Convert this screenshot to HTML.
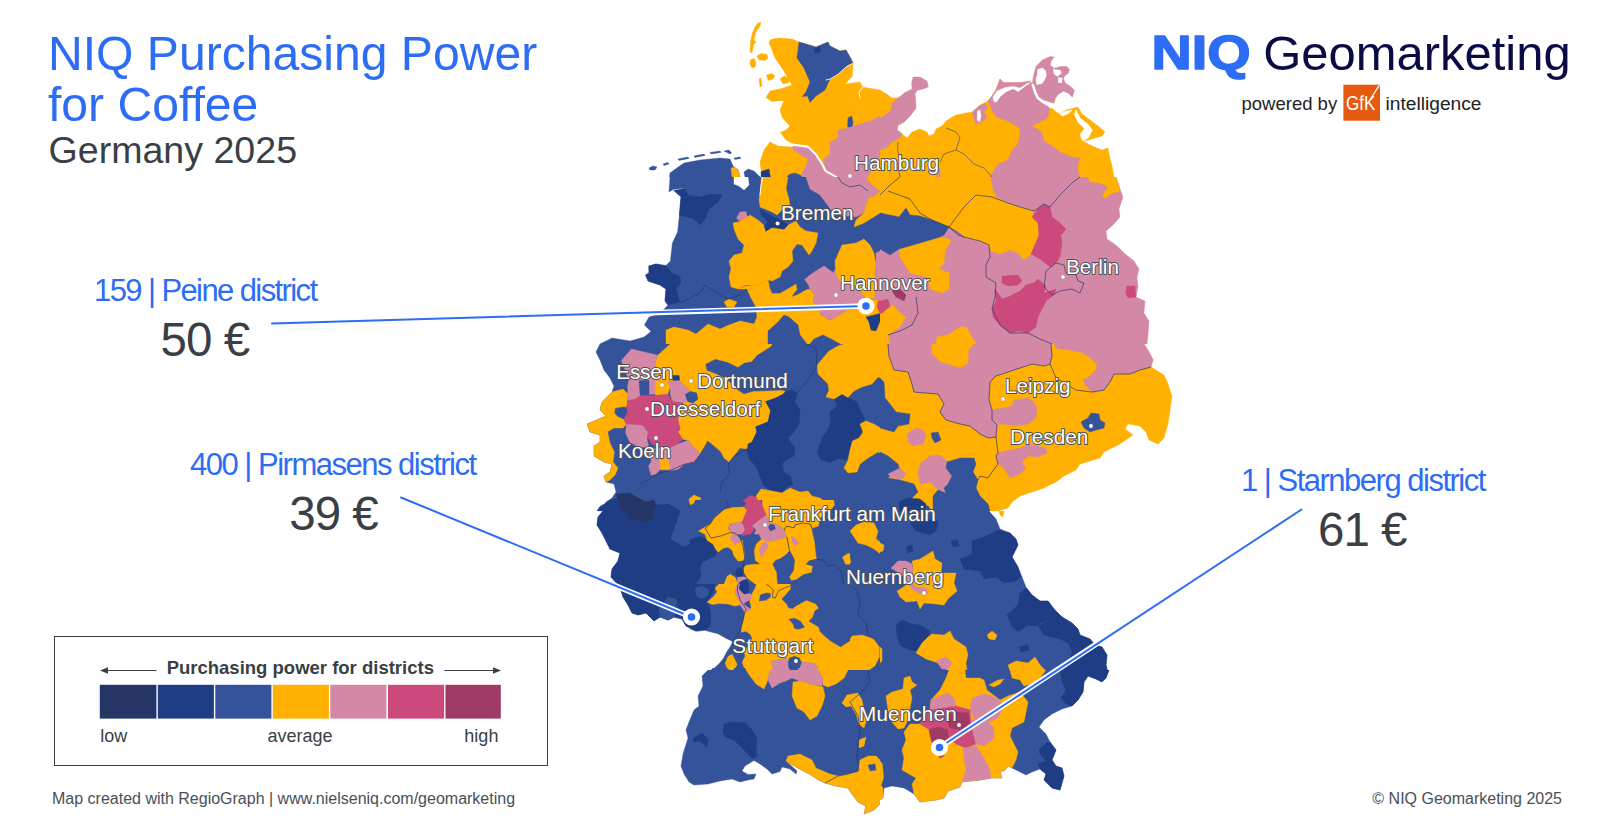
<!DOCTYPE html>
<html lang="en">
<head>
<meta charset="utf-8">
<title>NIQ Purchasing Power for Coffee – Germany 2025</title>
<style>
html,body{margin:0;padding:0;background:#fff;}
body{width:1600px;height:837px;position:relative;overflow:hidden;font-family:"Liberation Sans",Arial,sans-serif;}
.abs{position:absolute;white-space:nowrap;line-height:1;}
#title{left:48px;top:28.3px;font-size:48.1px;line-height:50.8px;color:#2d6df6;}
#subtitle{left:48.5px;top:131.6px;font-size:37.6px;color:#3a3f45;}
.clabel{font-size:31px;color:#2d6df6;letter-spacing:-1.5px;}
.cval{font-size:47.5px;color:#3a3f45;letter-spacing:-1px;}
#footl{left:52px;top:790.8px;font-size:16px;color:#4a4f55;}
#footr{right:38px;top:790.8px;font-size:16px;color:#4a4f55;}
#legend{left:54px;top:636px;width:494px;height:130px;border:1.2px solid #3a3f45;box-sizing:border-box;}
#mapsvg{position:absolute;left:0;top:0;}
</style>
</head>
<body>
<svg id="mapsvg" width="1600" height="837" viewBox="0 0 1600 837">
<defs><clipPath id="c580_10"><rect x="580" y="10" width="320.4" height="167.4"/></clipPath><clipPath id="c580_177"><rect x="580" y="177" width="320.4" height="167.4"/></clipPath><clipPath id="c580_344"><rect x="580" y="344" width="320.4" height="167.4"/></clipPath><clipPath id="c580_511"><rect x="580" y="511" width="320.4" height="167.4"/></clipPath><clipPath id="c580_670"><rect x="580" y="670" width="320.4" height="167.4"/></clipPath><clipPath id="c880_10"><rect x="880" y="10" width="320.4" height="167.4"/></clipPath><clipPath id="c880_177"><rect x="880" y="177" width="320.4" height="167.4"/></clipPath><clipPath id="c880_344"><rect x="880" y="344" width="320.4" height="167.4"/></clipPath><clipPath id="c880_511"><rect x="880" y="511" width="320.4" height="167.4"/></clipPath><clipPath id="c880_670"><rect x="880" y="670" width="320.4" height="167.4"/></clipPath><clipPath id="s690_500"><rect x="690" y="500" width="160" height="84"/></clipPath><clipPath id="s690_584"><rect x="690" y="584" width="160" height="84"/></clipPath></defs>
<g clip-path="url(#c580_10)"><g transform="translate(580,10) scale(0.2)">
<polygon points="890,65 905,62 900,80 880,110 870,150 880,160 868,175 860,215 850,210 852,160 862,115 875,85" fill="#ffb000" stroke="#ffb000" stroke-width="2" stroke-linejoin="round"/>
<polygon points="885,230 905,218 935,222 940,240 925,252 895,250" fill="#ffb000" stroke="#ffb000" stroke-width="2" stroke-linejoin="round"/>
<polygon points="852,250 870,242 880,262 875,285 860,290 850,270" fill="#ffb000" stroke="#ffb000" stroke-width="2" stroke-linejoin="round"/>
<polygon points="932,325 960,318 975,330 965,345 940,352" fill="#ffb000" stroke="#ffb000" stroke-width="2" stroke-linejoin="round"/>
<polygon points="1000,345 1020,330 1050,340 1045,362 1015,370" fill="#ffb000" stroke="#ffb000" stroke-width="2" stroke-linejoin="round"/>
<polygon points="895,345 905,340 910,380 900,385" fill="#ffb000" stroke="#ffb000" stroke-width="2" stroke-linejoin="round"/>
<polygon points="950,150 975,142 1000,140 1060,145 1095,160 1130,170 1180,185 1240,160 1250,180 1300,205 1330,200 1350,235 1365,265 1362,330 1325,370 1400,360 1412,385 1440,390 1500,400 1560,440 1600,440 1600,835 1290,835 1230,800 1210,760 1180,720 1140,680 1070,670 1030,650 1002,612 1030,600 1050,580 1012,540 1000,500 1020,452 960,457 930,437 950,405 1010,392 1060,375 1040,340 1010,290 975,240 960,200 945,165" fill="#ffb000" stroke="#ffb000" stroke-width="2" stroke-linejoin="round"/>
<polygon points="950,660 990,680 1060,685 1140,700 1200,780 1260,835 920,835 905,800 900,760 920,700" fill="#ffb000" stroke="#ffb000" stroke-width="2" stroke-linejoin="round"/>
<polygon points="1095,160 1130,170 1180,185 1240,160 1250,180 1300,205 1330,200 1350,235 1365,265 1340,275 1290,320 1250,345 1225,400 1180,430 1150,462 1138,430 1112,432 1130,410 1150,360 1120,290 1085,240" fill="#34539b" stroke="#34539b" stroke-width="2" stroke-linejoin="round"/>
<polygon points="1172,195 1195,185 1207,200 1195,216 1175,214" fill="#1f3d85" stroke="#1f3d85" stroke-width="2" stroke-linejoin="round"/>
<polyline points="1362,268 1330,285 1290,322 1250,345 1230,350" fill="none" stroke="#fff" stroke-width="4" stroke-linejoin="round" stroke-linecap="round"/>
<polyline points="1415,385 1395,410 1400,440" fill="none" stroke="#fff" stroke-width="5" stroke-linejoin="round" stroke-linecap="round"/>
<polygon points="1340,540 1358,530 1365,560 1360,590 1338,585" fill="#34539b" stroke="#34539b" stroke-width="2" stroke-linejoin="round"/>
<polygon points="1290,600 1340,590 1400,570 1450,555 1500,530 1520,490 1560,480 1580,450 1600,440 1600,835 1290,835 1230,800 1215,750 1250,720 1250,660 1290,640" fill="#d389a5" stroke="#d389a5" stroke-width="2" stroke-linejoin="round"/>
<polygon points="1065,680 1140,690 1175,725 1205,770 1225,810 1280,835 1100,835 1130,780 1140,745 1100,720 1065,700" fill="#d389a5" stroke="#d389a5" stroke-width="2" stroke-linejoin="round"/>
<polyline points="1060,672 1140,683 1180,722 1208,765 1228,805 1290,840" fill="none" stroke="#fff" stroke-width="9" stroke-linejoin="round" stroke-linecap="round"/>
<polygon points="1580,580 1600,568 1600,610 1585,605" fill="#ffffff" stroke="#ffffff" stroke-width="2" stroke-linejoin="round"/>
<polygon points="1540,690 1570,660 1600,650 1600,720 1540,715" fill="#ffb000" stroke="#ffb000" stroke-width="2" stroke-linejoin="round"/>
<polygon points="1480,760 1530,730 1600,720 1600,835 1440,835" fill="#ffb000" stroke="#ffb000" stroke-width="2" stroke-linejoin="round"/>
<polygon points="470,800 520,765 600,750 700,740 750,745 765,780 790,800 800,835 447,835 450,815" fill="#34539b" stroke="#34539b" stroke-width="2" stroke-linejoin="round"/>
<polygon points="755,790 775,785 795,810 800,835 760,835" fill="#ffb000" stroke="#ffb000" stroke-width="2" stroke-linejoin="round"/>
<polygon points="820,810 840,795 870,805 900,835 825,835" fill="#34539b" stroke="#34539b" stroke-width="2" stroke-linejoin="round"/>
<polygon points="905,808 945,795 952,835 905,835" fill="#1f3d85" stroke="#1f3d85" stroke-width="2" stroke-linejoin="round"/>
<polygon points="1035,835 1045,822 1075,815 1100,825 1110,835" fill="#34539b" stroke="#34539b" stroke-width="2" stroke-linejoin="round"/>
<polygon points="345,790 365,780 385,785 375,800 350,800" fill="#34539b" stroke="#34539b" stroke-width="2" stroke-linejoin="round"/>
<polygon points="415,770 440,762 445,770 420,778" fill="#34539b" stroke="#34539b" stroke-width="2" stroke-linejoin="round"/>
<polygon points="490,745 540,735 545,742 495,752" fill="#34539b" stroke="#34539b" stroke-width="2" stroke-linejoin="round"/>
<polygon points="570,730 620,720 625,727 575,737" fill="#34539b" stroke="#34539b" stroke-width="2" stroke-linejoin="round"/>
<polygon points="650,712 700,705 705,712 655,720" fill="#34539b" stroke="#34539b" stroke-width="2" stroke-linejoin="round"/>
<polygon points="720,705 745,700 758,715 750,720" fill="#34539b" stroke="#34539b" stroke-width="2" stroke-linejoin="round"/>
<polygon points="770,740 800,735 805,742 775,748" fill="#34539b" stroke="#34539b" stroke-width="2" stroke-linejoin="round"/>
</g></g>
<g clip-path="url(#c580_177)"><g transform="translate(580,177) scale(0.2)">
<polygon points="450,0 445,75 465,62 520,55 505,100 497,190 488,275 462,330 452,420 430,442 380,435 343,445 345,480 328,490 340,520 400,540 430,560 425,620 440,640 400,682 345,700 322,740 355,772 320,800 250,820 160,805 100,835 1600,835 1600,0" fill="#34539b" stroke="#34539b" stroke-width="2" stroke-linejoin="round"/>
<polygon points="468,68 520,58 545,92 600,100 650,88 710,88 690,125 645,160 630,200 605,240 560,205 497,192 500,150 505,100" fill="#1f3d85" stroke="#1f3d85" stroke-width="2" stroke-linejoin="round"/>
<polygon points="345,445 380,435 430,445 460,480 500,500 505,530 480,560 500,625 440,640 425,620 430,560 400,540 340,520 328,490 345,480" fill="#1f3d85" stroke="#1f3d85" stroke-width="2" stroke-linejoin="round"/>
<polygon points="905,0 952,0 925,27 905,15" fill="#1f3d85" stroke="#1f3d85" stroke-width="2" stroke-linejoin="round"/>
<polygon points="770,0 840,0 845,40 820,65 795,45 770,35" fill="#ffffff" stroke="#ffffff" stroke-width="2" stroke-linejoin="round"/>
<polygon points="905,0 1040,0 1030,60 1045,110 1050,150 1010,165 985,190 960,175 900,150 895,110 905,60" fill="#ffb000" stroke="#ffb000" stroke-width="2" stroke-linejoin="round"/>
<polyline points="915,0 905,40 900,90" fill="none" stroke="#fff" stroke-width="5" stroke-linejoin="round" stroke-linecap="round"/>
<polygon points="800,175 830,172 835,200 800,222 782,205" fill="#d389a5" stroke="#d389a5" stroke-width="2" stroke-linejoin="round"/>
<polygon points="800,222 850,190 890,215 930,250 925,275 960,255 1020,262 1040,240 1080,220 1100,250 1130,270 1190,280 1180,330 1160,370 1145,390 1110,340 1085,335 1060,370 1065,420 1040,450 1010,470 1000,500 960,520 940,515 880,545 830,540 790,560 755,550 745,500 755,460 745,420 770,390 810,380 820,340 790,310 770,260 765,230" fill="#ffb000" stroke="#ffb000" stroke-width="2" stroke-linejoin="round"/>
<polygon points="900,160 940,185 1000,215 1040,240 1020,260 960,250 930,270 920,245 940,225 905,185" fill="#1f3d85" stroke="#1f3d85" stroke-width="2" stroke-linejoin="round"/>
<polygon points="790,560 830,545 880,545 940,515 950,560 960,582 1000,582 1060,548 1080,535 1085,562 1055,600 1090,588 1130,565 1150,560 1175,590 1165,625 1200,650 1202,686 1251,716 1288,694 1341,663 1401,656 1420,625 1470,612 1500,612 1490,640 1500,680 1530,680 1545,650 1600,620 1600,835 430,835 430,765 470,750 540,765 580,785 640,735 700,760 745,740 800,720 870,735 885,700 880,650 855,605 835,560" fill="#ffb000" stroke="#ffb000" stroke-width="2" stroke-linejoin="round"/>
<polygon points="940,835 940,770 990,725 1020,690 1045,700 1090,740 1100,790 1135,835" fill="#34539b" stroke="#34539b" stroke-width="2" stroke-linejoin="round"/>
<polygon points="1150,835 1170,810 1215,790 1260,812 1300,835" fill="#34539b" stroke="#34539b" stroke-width="2" stroke-linejoin="round"/>
<polygon points="720,625 745,610 785,625 770,650 735,650" fill="#ffb000" stroke="#ffb000" stroke-width="2" stroke-linejoin="round"/>
<polygon points="1123,513 1150,490 1183,468 1221,445 1266,479 1277,460 1285,500 1300,520 1400,560 1420,600 1409,625 1401,656 1341,663 1288,694 1251,716 1202,686 1200,650 1165,625 1175,590 1150,560 1140,535" fill="#d389a5" stroke="#d389a5" stroke-width="2" stroke-linejoin="round"/>
<polygon points="1275,420 1310,340 1380,330 1420,310 1450,340 1470,380 1480,440 1475,500 1480,560 1470,612 1420,600 1400,560 1300,520 1285,500 1277,460" fill="#ffb000" stroke="#ffb000" stroke-width="2" stroke-linejoin="round"/>
<polygon points="1480,380 1520,360 1560,365 1600,390 1600,650 1550,650 1530,612 1500,612 1470,612 1480,560 1475,500 1480,440" fill="#d389a5" stroke="#d389a5" stroke-width="2" stroke-linejoin="round"/>
<polygon points="1560,560 1600,540 1600,620 1580,600" fill="#9d3b62" stroke="#9d3b62" stroke-width="2" stroke-linejoin="round"/>
<polygon points="1490,620 1530,610 1550,640 1530,680 1500,680 1485,650" fill="#cb4a7b" stroke="#cb4a7b" stroke-width="2" stroke-linejoin="round"/>
<polygon points="1430,700 1470,690 1510,680 1500,720 1480,770 1455,765 1445,725" fill="#1f3d85" stroke="#1f3d85" stroke-width="2" stroke-linejoin="round"/>
<polygon points="1545,780 1600,760 1600,835 1560,835" fill="#d389a5" stroke="#d389a5" stroke-width="2" stroke-linejoin="round"/>
<polygon points="1130,0 1150,60 1200,90 1230,130 1260,170 1300,190 1380,200 1420,180 1440,110 1480,90 1500,70 1450,30 1430,0" fill="#d389a5" stroke="#d389a5" stroke-width="2" stroke-linejoin="round"/>
<polygon points="1430,0 1450,30 1500,70 1480,90 1440,110 1420,180 1380,215 1370,250 1420,230 1500,180 1560,188 1600,200 1600,0" fill="#ffb000" stroke="#ffb000" stroke-width="2" stroke-linejoin="round"/>
<polyline points="500,630 560,600 600,580 625,540 700,590 740,610 800,590 835,560" fill="none" stroke="#253566" stroke-width="4.5" stroke-opacity=".75" stroke-linejoin="round"/>
<polyline points="1290,0 1310,30 1350,50 1400,40 1440,70" fill="none" stroke="#253566" stroke-width="4.5" stroke-opacity=".75" stroke-linejoin="round"/>
</g></g>
<g clip-path="url(#c580_344)"><g transform="translate(580,344) scale(0.2)">
<polygon points="100,0 80,40 100,80 120,130 150,170 170,210 160,240 110,290 100,330 130,360 60,390 35,400 50,440 100,455 100,490 70,510 70,560 120,590 160,600 150,640 120,660 130,690 170,700 180,740 160,770 130,790 115,835 1600,835 1600,0" fill="#34539b" stroke="#34539b" stroke-width="2" stroke-linejoin="round"/>
<polygon points="160,240 215,225 240,250 235,300 240,318 219,313 175,320 172,345 188,364 219,378 232,401 215,420 169,420 138,439 150,495 172,540 165,590 190,620 175,655 150,680 130,690 120,660 150,640 160,600 120,590 70,560 70,510 100,490 100,455 50,440 35,400 60,390 130,360 100,330 110,290" fill="#ffb000" stroke="#ffb000" stroke-width="2" stroke-linejoin="round"/>
<polygon points="451,0 960,0 953,13 884,56 859,88 821,94 790,116 740,91 677,75 627,100 633,132 680,150 720,170 760,200 790,232 821,251 865,238 1009,232 1028,238 1015,251 978,270 928,288 953,332 940,389 878,414 884,439 859,495 834,525 800,520 770,560 745,590 720,570 705,540 660,500 640,485 620,520 600,550 572,520 540,482 514,476 489,439 501,426 489,376 500,340 514,295 539,288 564,295 589,276 583,245 552,238 533,219 498,182 495,157 464,157 467,182 439,188 401,188 382,163 376,94 389,56" fill="#ffb000" stroke="#ffb000" stroke-width="2" stroke-linejoin="round"/>
<polygon points="257,25 389,56 376,94 382,163 401,188 376,213 376,251 345,251 301,260 276,276 241,282 238,207 244,182 207,82" fill="#d389a5" stroke="#d389a5" stroke-width="2" stroke-linejoin="round"/>
<polygon points="295,182 345,182 345,251 301,260" fill="#34539b" stroke="#34539b" stroke-width="2" stroke-linejoin="round"/>
<polygon points="376,182 401,188 439,188 451,213 439,251 376,257" fill="#ffb000" stroke="#ffb000" stroke-width="2" stroke-linejoin="round"/>
<polygon points="464,157 495,157 498,182 467,182" fill="#1f3d85" stroke="#1f3d85" stroke-width="2" stroke-linejoin="round"/>
<polygon points="439,188 498,182 533,219 552,238 527,263 539,288 514,295 464,288 451,251 451,213" fill="#d389a5" stroke="#d389a5" stroke-width="2" stroke-linejoin="round"/>
<polygon points="527,251 552,238 583,245 589,276 564,295 539,288" fill="#34539b" stroke="#34539b" stroke-width="2" stroke-linejoin="round"/>
<polygon points="241,282 276,276 301,260 376,257 439,251 464,288 514,295 500,340 489,376 501,426 489,439 514,476 489,497 450,520 400,520 360,500 340,470 335,430 313,407 232,401 219,376 238,338 232,313" fill="#cb4a7b" stroke="#cb4a7b" stroke-width="2" stroke-linejoin="round"/>
<polygon points="232,401 313,407 338,439 335,476 345,520 290,512 250,492 228,445" fill="#d389a5" stroke="#d389a5" stroke-width="2" stroke-linejoin="round"/>
<polygon points="340,520 400,520 450,520 490,500 540,482 572,520 602,550 572,590 520,602 490,627 450,632 400,628 380,652 355,655 343,610 358,585 345,560" fill="#d389a5" stroke="#d389a5" stroke-width="2" stroke-linejoin="round"/>
<polygon points="400,580 440,572 448,625 402,628" fill="#ffb000" stroke="#ffb000" stroke-width="2" stroke-linejoin="round"/>
<polygon points="1028,238 1060,230 1085,245 1075,290 1100,330 1095,400 1070,440 1040,470 1060,500 1075,520 1070,560 1030,580 1010,600 1020,640 1050,660 1065,700 1030,720 1010,740 960,735 920,710 900,660 880,610 850,580 835,540 840,500 860,490 884,439 878,414 940,389 953,332 928,288 978,270 1015,251" fill="#1f3d85" stroke="#1f3d85" stroke-width="2" stroke-linejoin="round"/>
<polygon points="1270,275 1310,250 1340,268 1385,290 1400,330 1425,375 1400,400 1415,440 1395,470 1362,485 1350,530 1332,580 1290,572 1250,592 1205,580 1185,540 1210,470 1240,430 1255,380 1250,340 1285,310" fill="#1f3d85" stroke="#1f3d85" stroke-width="2" stroke-linejoin="round"/>
<polygon points="1185,105 1245,35 1290,10 1320,0 1545,0 1545,50 1585,105 1555,130 1560,165 1520,175 1490,165 1460,200 1410,215 1370,235 1340,268 1310,250 1270,275 1230,265 1245,230 1240,200 1190,150" fill="#ffb000" stroke="#ffb000" stroke-width="2" stroke-linejoin="round"/>
<polygon points="1560,165 1600,140 1600,330 1560,320 1520,290 1515,240 1530,200" fill="#ffb000" stroke="#ffb000" stroke-width="2" stroke-linejoin="round"/>
<polygon points="1550,0 1600,0 1600,130 1575,120 1545,60" fill="#d389a5" stroke="#d389a5" stroke-width="2" stroke-linejoin="round"/>
<polygon points="1430,385 1470,400 1520,430 1570,440 1600,430 1600,600 1560,590 1530,560 1490,540 1440,570 1400,600 1385,640 1340,645 1320,620 1340,580 1350,530 1362,485 1395,470 1415,440 1400,400" fill="#ffb000" stroke="#ffb000" stroke-width="2" stroke-linejoin="round"/>
<polygon points="1540,660 1575,640 1600,630 1600,680 1560,678" fill="#d389a5" stroke="#d389a5" stroke-width="2" stroke-linejoin="round"/>
<polygon points="880,760 905,725 960,735 1010,745 1050,720 1100,740 1140,735 1160,760 1200,770 1240,800 1250,835 900,835 880,800" fill="#ffb000" stroke="#ffb000" stroke-width="2" stroke-linejoin="round"/>
<polygon points="810,790 850,758 880,765 900,800 910,835 835,835" fill="#cb4a7b" stroke="#cb4a7b" stroke-width="2" stroke-linejoin="round"/>
<polygon points="545,775 570,755 605,770 595,795 560,810 548,795" fill="#ffb000" stroke="#ffb000" stroke-width="2" stroke-linejoin="round"/>
<polygon points="720,835 740,822 800,818 820,835" fill="#ffb000" stroke="#ffb000" stroke-width="2" stroke-linejoin="round"/>
<polygon points="85,835 100,812 150,783 195,768 230,760 260,835" fill="#1f3d85" stroke="#1f3d85" stroke-width="2" stroke-linejoin="round"/>
<polygon points="340,835 380,805 440,800 500,835" fill="#1f3d85" stroke="#1f3d85" stroke-width="2" stroke-linejoin="round"/>
<polygon points="180,750 250,745 290,770 330,790 370,780 380,810 350,835 210,835 195,790" fill="#253566" stroke="#253566" stroke-width="2" stroke-linejoin="round"/>
<polyline points="300,700 340,680 380,652 450,632 520,602 572,590 602,550 640,485" fill="none" stroke="#253566" stroke-width="4.5" stroke-opacity=".75" stroke-linejoin="round"/>
<polyline points="700,740 710,690 750,650 740,600 770,560 835,525" fill="none" stroke="#253566" stroke-width="4.5" stroke-opacity=".75" stroke-linejoin="round"/>
<polyline points="1130,0 1180,20 1185,105 1160,150 1100,230 1085,245" fill="none" stroke="#253566" stroke-width="4.5" stroke-opacity=".75" stroke-linejoin="round"/>
</g></g>
<g clip-path="url(#c580_511)"><g transform="translate(580,511) scale(0.2)">
<polygon points="115,0 90,30 85,70 110,110 130,150 150,190 200,210 190,250 160,290 155,330 200,380 215,430 240,470 260,510 290,520 330,510 370,550 400,530 440,545 470,530 510,540 530,575 570,595 620,605 660,600 700,615 750,640 770,660 740,700 720,740 680,770 650,800 625,835 1600,835 1600,0" fill="#34539b" stroke="#34539b" stroke-width="2" stroke-linejoin="round"/>
<polygon points="115,0 90,30 85,70 110,110 130,150 150,190 200,210 190,250 160,290 155,330 200,380 215,430 240,470 260,510 290,520 330,510 370,550 400,530 440,545 470,530 510,540 530,575 570,595 620,605 650,590 650,530 640,480 640,450 680,430 680,380 640,340 600,300 610,250 670,230 680,190 600,140 520,180 450,140 480,60 500,0" fill="#1f3d85" stroke="#1f3d85" stroke-width="2" stroke-linejoin="round"/>
<polygon points="235,0 370,0 365,40 330,55 280,45 240,30" fill="#253566" stroke="#253566" stroke-width="2" stroke-linejoin="round"/>
<polygon points="575,390 610,370 650,380 665,420 640,445 590,435" fill="#34539b" stroke="#34539b" stroke-width="2" stroke-linejoin="round"/>
<polygon points="395,490 440,430 480,440 490,480 470,530 440,545 400,530" fill="#34539b" stroke="#34539b" stroke-width="2" stroke-linejoin="round"/>
<polygon points="600,100 650,60 680,20 720,0 830,0 820,60 810,100 830,130 800,160 820,200 790,250 770,220 765,180 730,170 690,200 660,150 630,130" fill="#ffb000" stroke="#ffb000" stroke-width="2" stroke-linejoin="round"/>
<polygon points="750,70 790,55 820,70 810,100 780,110 755,100" fill="#d389a5" stroke="#d389a5" stroke-width="2" stroke-linejoin="round"/>
<polygon points="745,125 780,120 800,160 770,180" fill="#d389a5" stroke="#d389a5" stroke-width="2" stroke-linejoin="round"/>
<polygon points="830,0 930,0 920,40 880,70 850,110 810,120 820,60" fill="#cb4a7b" stroke="#cb4a7b" stroke-width="2" stroke-linejoin="round"/>
<polygon points="880,70 920,40 960,50 1000,70 1030,100 1020,135 980,150 930,150 900,120 870,110" fill="#d389a5" stroke="#d389a5" stroke-width="2" stroke-linejoin="round"/>
<polygon points="940,75 970,70 975,95 950,100" fill="#34539b" stroke="#34539b" stroke-width="2" stroke-linejoin="round"/>
<polygon points="1030,100 1060,70 1100,60 1140,80 1160,120 1170,180 1150,230 1140,270 1160,300 1130,310 1100,290 1090,320 1060,330 1050,290 1070,250 1060,200 1040,150 1020,135" fill="#ffb000" stroke="#ffb000" stroke-width="2" stroke-linejoin="round"/>
<polygon points="1060,130 1085,125 1095,165 1070,170" fill="#d389a5" stroke="#d389a5" stroke-width="2" stroke-linejoin="round"/>
<polygon points="880,160 900,150 930,150 980,150 1020,135 1040,150 1050,200 1020,220 990,230 960,260 930,250 890,260 875,220" fill="#ffb000" stroke="#ffb000" stroke-width="2" stroke-linejoin="round"/>
<polygon points="890,160 930,150 940,180 920,210 895,210" fill="#d389a5" stroke="#d389a5" stroke-width="2" stroke-linejoin="round"/>
<polygon points="820,280 870,265 930,255 960,265 960,300 985,345 990,385 1045,375 1050,395 980,430 950,430 920,450 885,430 860,420 850,400 870,370 850,340 820,320" fill="#ffb000" stroke="#ffb000" stroke-width="2" stroke-linejoin="round"/>
<polygon points="780,300 810,285 825,315 800,335 780,325" fill="#1f3d85" stroke="#1f3d85" stroke-width="2" stroke-linejoin="round"/>
<polygon points="640,455 680,420 700,380 740,320 770,330 790,360 780,410 810,440 800,470 750,470 700,465 660,470" fill="#ffb000" stroke="#ffb000" stroke-width="2" stroke-linejoin="round"/>
<polygon points="790,345 820,335 850,345 840,400 860,430 850,470 840,500 815,490 805,445 780,410" fill="#d389a5" stroke="#d389a5" stroke-width="2" stroke-linejoin="round"/>
<polygon points="805,360 835,350 845,395 820,410 805,390" fill="#1f3d85" stroke="#1f3d85" stroke-width="2" stroke-linejoin="round"/>
<polygon points="850,430 885,430 920,450 950,430 1000,440 1030,470 1060,490 1090,470 1130,450 1190,480 1170,510 1165,550 1190,590 1220,620 1260,660 1300,690 1340,660 1360,625 1410,620 1470,640 1500,680 1500,730 1480,770 1440,800 1420,835 830,835 830,790 810,750 830,730 820,600 830,560 815,520 840,500 850,470" fill="#ffb000" stroke="#ffb000" stroke-width="2" stroke-linejoin="round"/>
<polygon points="1045,545 1075,535 1110,560 1125,590 1095,600 1065,580" fill="#34539b" stroke="#34539b" stroke-width="2" stroke-linejoin="round"/>
<polygon points="955,760 1000,745 1040,760 1100,770 1150,750 1190,780 1190,835 950,835 965,800" fill="#d389a5" stroke="#d389a5" stroke-width="2" stroke-linejoin="round"/>
<polygon points="1040,760 1075,745 1100,770 1085,800 1050,795" fill="#34539b" stroke="#34539b" stroke-width="2" stroke-linejoin="round"/>
<polygon points="725,740 760,720 780,760 765,800 740,790" fill="#ffb000" stroke="#ffb000" stroke-width="2" stroke-linejoin="round"/>
<polygon points="1350,100 1380,70 1420,55 1470,60 1490,100 1480,140 1520,170 1510,220 1470,190 1430,170 1390,160 1370,130" fill="#ffb000" stroke="#ffb000" stroke-width="2" stroke-linejoin="round"/>
<polygon points="1315,230 1345,215 1355,255 1330,275" fill="#ffb000" stroke="#ffb000" stroke-width="2" stroke-linejoin="round"/>
<polygon points="1555,270 1600,245 1600,290 1565,295" fill="#d389a5" stroke="#d389a5" stroke-width="2" stroke-linejoin="round"/>
<polygon points="1585,390 1600,385 1600,415 1588,412" fill="#ffb000" stroke="#ffb000" stroke-width="2" stroke-linejoin="round"/>
<polygon points="1575,560 1600,540 1600,640 1580,620" fill="#1f3d85" stroke="#1f3d85" stroke-width="2" stroke-linejoin="round"/>
<polyline points="1135,270 1180,250 1230,240 1240,280 1300,300 1310,360 1380,390 1400,450 1390,520 1430,560 1440,620 1470,640 1500,680 1500,730 1480,770 1500,800" fill="none" stroke="#253566" stroke-width="4.5" stroke-opacity=".75" stroke-linejoin="round"/>
<polyline points="155,330 250,340 350,300 430,320 460,350 450,400 490,450 480,490" fill="none" stroke="#253566" stroke-width="4.5" stroke-opacity=".75" stroke-linejoin="round"/>
<polyline points="650,100 660,130 740,115 760,180 800,250 820,280 790,345 800,445 840,500 815,520 790,600 750,640" fill="none" stroke="#253566" stroke-width="4.5" stroke-opacity=".75" stroke-linejoin="round"/>
<polyline points="890,330 920,325 925,360 960,380 970,430" fill="none" stroke="#253566" stroke-width="4.5" stroke-opacity=".75" stroke-linejoin="round"/>
</g></g>
<g clip-path="url(#c580_670)"><g transform="translate(580,670) scale(0.2)">
<polygon points="0,0 1600,0 1600,835 0,835" fill="#ffffff" stroke="#ffffff" stroke-width="2" stroke-linejoin="round"/>
<polygon points="640,0 610,30 615,80 590,130 595,180 570,200 545,260 530,300 540,340 515,420 505,480 520,520 545,560 570,575 640,570 700,555 760,545 800,560 840,550 870,545 880,520 840,522 810,505 825,480 870,452 900,470 935,495 960,520 1000,508 1010,485 1050,495 1080,520 1085,505 1030,455 1080,485 1150,522 1190,548 1225,565 1280,580 1340,590 1360,620 1390,660 1430,680 1420,720 1470,700 1500,670 1520,630 1505,590 1530,570 1600,585 1600,0" fill="#34539b" stroke="#34539b" stroke-width="2" stroke-linejoin="round"/>
<polygon points="1040,430 1100,420 1160,450 1180,490 1250,520 1290,530 1340,520 1390,510 1400,450 1440,430 1480,430 1510,460 1520,520 1530,570 1505,590 1520,630 1500,670 1470,700 1420,720 1430,680 1390,660 1360,620 1340,590 1280,580 1225,565 1190,548 1150,522 1080,485 1030,455" fill="#ffb000" stroke="#ffb000" stroke-width="2" stroke-linejoin="round"/>
<polygon points="1440,475 1475,470 1480,500 1450,505" fill="#34539b" stroke="#34539b" stroke-width="2" stroke-linejoin="round"/>
<polygon points="720,270 760,260 830,265 860,300 885,340 880,380 885,430 860,445 830,410 800,380 770,350 725,335 715,310" fill="#1f3d85" stroke="#1f3d85" stroke-width="2" stroke-linejoin="round"/>
<polygon points="565,340 610,315 640,345 635,385 600,355 570,360" fill="#1f3d85" stroke="#1f3d85" stroke-width="2" stroke-linejoin="round"/>
<polygon points="830,0 950,0 940,50 920,95 880,70 850,30" fill="#ffb000" stroke="#ffb000" stroke-width="2" stroke-linejoin="round"/>
<polygon points="950,0 1190,0 1215,40 1210,80 1150,70 1100,55 1060,40 1030,55 1000,65 960,90 940,50" fill="#d389a5" stroke="#d389a5" stroke-width="2" stroke-linejoin="round"/>
<polygon points="1190,0 1340,0 1320,40 1280,70 1240,85 1215,75 1215,40" fill="#ffb000" stroke="#ffb000" stroke-width="2" stroke-linejoin="round"/>
<polygon points="1065,60 1100,55 1150,70 1215,85 1225,130 1210,180 1185,230 1150,250 1120,210 1085,190 1060,130" fill="#ffb000" stroke="#ffb000" stroke-width="2" stroke-linejoin="round"/>
<polygon points="1310,165 1335,125 1390,115 1410,150 1420,200 1430,260 1420,290 1395,270 1380,220 1355,180 1330,185" fill="#ffb000" stroke="#ffb000" stroke-width="2" stroke-linejoin="round"/>
<polygon points="1395,350 1430,335 1420,380 1395,390" fill="#ffb000" stroke="#ffb000" stroke-width="2" stroke-linejoin="round"/>
<polygon points="1530,110 1600,100 1600,290 1560,240 1535,190 1525,140" fill="#ffb000" stroke="#ffb000" stroke-width="2" stroke-linejoin="round"/>
<polyline points="1440,0 1450,60 1420,100 1350,160 1390,230 1400,300 1390,380 1385,440 1395,500 1340,520 1290,530 1225,565" fill="none" stroke="#253566" stroke-width="4.5" stroke-opacity=".75" stroke-linejoin="round"/>
</g></g>
<g clip-path="url(#c880_10)"><g transform="translate(880,10) scale(0.2)">
<polygon points="0,405 40,425 65,460 130,410 175,420 180,490 150,530 120,560 90,575 85,600 110,620 135,640 160,610 200,595 235,610 245,630 270,620 280,595 310,580 330,555 345,545 380,525 430,515 460,510 500,475 540,455 560,430 580,400 600,345 620,365 700,365 740,355 751,356 761,371 774,411 786,441 811,461 841,476 850,480 880,510 900,520 930,500 990,485 1010,520 1050,550 1090,580 1125,610 1110,630 1040,650 1015,655 1060,680 1110,700 1140,690 1145,720 1160,780 1170,835 0,835" fill="#ffb000" stroke="#ffb000" stroke-width="2" stroke-linejoin="round"/>
<polygon points="165,335 200,335 235,355 242,385 215,395 185,402 175,420 180,490 150,530 120,560 90,575 85,600 110,618 100,640 60,660 30,690 0,700 0,540 20,530 55,500 65,460 130,410 160,395 158,365" fill="#d389a5" stroke="#d389a5" stroke-width="2" stroke-linejoin="round"/>
<polygon points="462,512 495,480 525,468 540,490 520,510 535,540 510,558 480,570 468,540" fill="#d389a5" stroke="#d389a5" stroke-width="2" stroke-linejoin="round"/>
<polygon points="488,505 500,500 505,530 498,558 486,550" fill="#ffffff" stroke="#ffffff" stroke-width="2" stroke-linejoin="round"/>
<polygon points="540,455 560,430 580,400 600,345 615,361 666,363 726,361 751,356 761,371 774,411 786,441 811,461 841,476 850,480 840,530 830,545 760,580 720,600 690,585 640,555 580,535 560,500" fill="#d389a5" stroke="#d389a5" stroke-width="2" stroke-linejoin="round"/>
<polygon points="781,281 811,250 851,233 871,235 856,255 851,276 871,291 902,283 932,281 947,296 942,316 927,326 917,341 927,366 952,381 972,401 962,436 942,416 917,406 892,421 877,441 871,466 851,461 821,451 796,441 781,421 774,391 761,371 766,336 774,301" fill="#d389a5" stroke="#d389a5" stroke-width="2" stroke-linejoin="round"/>
<polyline points="764,375 776,411 789,439 812,458 841,474 856,486" fill="none" stroke="#fff" stroke-width="13" stroke-linejoin="round" stroke-linecap="round"/>
<polygon points="789,296 812,290 828,303 832,328 822,350 810,368 783,373 780,345 787,322" fill="#ffffff" stroke="#ffffff" stroke-width="2" stroke-linejoin="round"/>
<polygon points="866,296 902,301 907,316 887,331 871,321" fill="#ffffff" stroke="#ffffff" stroke-width="2" stroke-linejoin="round"/>
<polygon points="892,336 912,341 907,366 892,361" fill="#ffffff" stroke="#ffffff" stroke-width="2" stroke-linejoin="round"/>
<polygon points="565,435 585,405 626,388 666,382 700,390 740,365 752,362 722,384 692,408 666,394 632,408 602,432 580,462 568,455" fill="#ffffff" stroke="#ffffff" stroke-width="2" stroke-linejoin="round"/>
<polygon points="700,585 720,600 760,580 810,610 820,655 860,680 900,710 960,735 1000,740 985,790 1000,835 550,835 590,770 640,750 660,700 690,670 700,620" fill="#d389a5" stroke="#d389a5" stroke-width="2" stroke-linejoin="round"/>
<polygon points="980,498 1000,540 1040,570 1062,600 1042,640 1012,655 1000,622 1022,592 990,562 972,522" fill="#ffffff" stroke="#ffffff" stroke-width="2" stroke-linejoin="round"/>
<polygon points="900,520 930,505 960,500 940,520 910,530" fill="#ffffff" stroke="#ffffff" stroke-width="2" stroke-linejoin="round"/>
<polygon points="283,792 300,790 302,835 285,835" fill="#d389a5" stroke="#d389a5" stroke-width="2" stroke-linejoin="round"/>
<polyline points="90,660 88,700 98,740 92,790 100,835" fill="none" stroke="#4a4f68" stroke-width="4.5" stroke-opacity=".75" stroke-linejoin="round"/>
<polyline points="330,590 380,610 400,640 380,700 420,720 470,770 520,790 560,835" fill="none" stroke="#4a4f68" stroke-width="4.5" stroke-opacity=".75" stroke-linejoin="round"/>
<polyline points="380,700 320,720 300,760" fill="none" stroke="#4a4f68" stroke-width="4.5" stroke-opacity=".75" stroke-linejoin="round"/>
</g></g>
<g clip-path="url(#c880_177)"><g transform="translate(880,177) scale(0.2)">
<polygon points="0,0 1180,0 1200,60 1215,100 1195,160 1200,200 1165,240 1130,270 1135,310 1180,340 1220,380 1270,420 1295,460 1285,500 1290,550 1280,600 1325,620 1320,680 1345,720 1340,790 1335,835 0,835" fill="#d389a5" stroke="#d389a5" stroke-width="2" stroke-linejoin="round"/>
<polygon points="0,0 555,0 560,50 580,100 640,130 700,150 770,170 760,200 790,230 795,290 770,350 755,385 720,415 690,380 650,365 600,385 555,370 545,340 500,320 420,300 390,270 345,250 260,215 200,195 150,190 130,155 95,200 0,180" fill="#ffb000" stroke="#ffb000" stroke-width="2" stroke-linejoin="round"/>
<polygon points="95,360 200,330 300,300 345,310 355,320 325,370 320,430 295,460 345,480 345,560 310,580 250,560 235,500 150,480 100,400" fill="#ffb000" stroke="#ffb000" stroke-width="2" stroke-linejoin="round"/>
<polygon points="0,180 95,200 130,155 150,190 200,195 260,215 345,250 320,290 300,300 200,330 95,360 50,390 0,360" fill="#34539b" stroke="#34539b" stroke-width="2" stroke-linejoin="round"/>
<polygon points="1040,0 1180,0 1200,60 1195,75 1160,80 1130,105 1110,95 1140,50 1100,30 1050,25" fill="#ffb000" stroke="#ffb000" stroke-width="2" stroke-linejoin="round"/>
<polygon points="760,200 790,160 820,135 850,150 860,200 900,230 930,260 905,290 910,330 900,400 880,430 850,450 800,410 755,385 770,350 795,290 790,230" fill="#cb4a7b" stroke="#cb4a7b" stroke-width="2" stroke-linejoin="round"/>
<polygon points="560,660 580,620 575,560 610,610 640,600 700,570 730,540 770,530 790,510 830,545 820,580 880,560 870,590 830,620 810,660 790,700 780,750 740,780 690,770 650,780 600,740 565,700" fill="#cb4a7b" stroke="#cb4a7b" stroke-width="2" stroke-linejoin="round"/>
<polygon points="610,495 690,490 710,520 690,540 640,545 610,530" fill="#cb4a7b" stroke="#cb4a7b" stroke-width="2" stroke-linejoin="round"/>
<polygon points="1235,545 1275,545 1280,600 1240,605 1228,580" fill="#cb4a7b" stroke="#cb4a7b" stroke-width="2" stroke-linejoin="round"/>
<polygon points="60,570 100,560 130,590 120,620 80,600" fill="#9d3b62" stroke="#9d3b62" stroke-width="2" stroke-linejoin="round"/>
<polygon points="0,620 40,610 50,650 20,690 0,680" fill="#cb4a7b" stroke="#cb4a7b" stroke-width="2" stroke-linejoin="round"/>
<polygon points="0,690 30,665 65,640 100,680 130,700 100,750 40,790 50,835 0,835" fill="#ffb000" stroke="#ffb000" stroke-width="2" stroke-linejoin="round"/>
<polygon points="285,800 340,790 400,750 430,750 460,800 480,835 280,835" fill="#ffb000" stroke="#ffb000" stroke-width="2" stroke-linejoin="round"/>
<polyline points="545,340 550,400 530,440 530,500 580,530 575,600 560,660 600,740 650,780 740,780 800,810 860,835" fill="none" stroke="#253566" stroke-width="4.5" stroke-opacity=".75" stroke-linejoin="round"/>
<polyline points="830,470 880,430 920,440 930,480 980,490 990,520 1020,530 1000,580 960,560 900,570 860,590 820,550 830,470" fill="none" stroke="#253566" stroke-width="4.5" stroke-opacity=".75" stroke-linejoin="round"/>
<polyline points="0,90 50,40 100,0" fill="none" stroke="#253566" stroke-width="4.5" stroke-opacity=".75" stroke-linejoin="round"/>
<polyline points="40,70 150,110 200,180 260,215 345,250 420,300 500,320 545,340" fill="none" stroke="#253566" stroke-width="4.5" stroke-opacity=".75" stroke-linejoin="round"/>
<polyline points="345,250 420,150 480,90 560,100 640,130 700,150 770,170 820,135 850,150 900,90 960,30 1000,0" fill="none" stroke="#253566" stroke-width="4.5" stroke-opacity=".75" stroke-linejoin="round"/>
<polyline points="345,250 390,290 420,300" fill="none" stroke="#253566" stroke-width="4.5" stroke-opacity=".75" stroke-linejoin="round"/>
<polyline points="180,600 190,680 160,740 100,770 40,790" fill="none" stroke="#253566" stroke-width="4.5" stroke-opacity=".75" stroke-linejoin="round"/>
</g></g>
<g clip-path="url(#c880_344)"><g transform="translate(880,344) scale(0.2)">
<polygon points="0,0 1320,0 1345,40 1365,80 1355,115 1420,155 1440,200 1460,260 1450,330 1440,400 1420,470 1390,500 1345,480 1330,440 1300,410 1240,400 1225,425 1265,455 1200,500 1120,540 1100,570 1000,600 980,630 920,660 880,690 820,720 760,740 700,760 660,790 640,820 590,835 0,835" fill="#ffb000" stroke="#ffb000" stroke-width="2" stroke-linejoin="round"/>
<polygon points="40,0 255,0 260,50 300,90 400,120 440,100 445,30 470,0 855,0 860,60 850,100 820,110 760,100 700,120 640,140 580,160 550,190 545,280 560,330 560,380 585,405 580,465 540,470 500,450 450,410 400,400 330,380 300,340 320,300 290,250 170,240 160,200 140,140 70,130 45,60" fill="#d389a5" stroke="#d389a5" stroke-width="2" stroke-linejoin="round"/>
<polygon points="560,330 580,325 620,320 660,310 670,280 740,270 770,290 785,320 780,370 740,400 680,410 620,400 585,405 560,380" fill="#d389a5" stroke="#d389a5" stroke-width="2" stroke-linejoin="round"/>
<polygon points="870,0 1320,0 1345,40 1365,80 1355,115 1300,130 1250,150 1170,150 1150,190 1120,230 1060,240 1030,210 1015,180 1050,160 1080,130 1085,100 1040,60 1000,40 940,30 880,20" fill="#d389a5" stroke="#d389a5" stroke-width="2" stroke-linejoin="round"/>
<polygon points="590,545 650,530 700,520 750,500 830,520 835,545 790,565 740,560 710,590 730,620 700,650 650,670 620,620 590,600 580,560" fill="#d389a5" stroke="#d389a5" stroke-width="2" stroke-linejoin="round"/>
<polygon points="1005,390 1040,370 1055,345 1095,350 1100,380 1125,395 1120,420 1080,430 1050,440 1020,420" fill="#34539b" stroke="#34539b" stroke-width="2" stroke-linejoin="round"/>
<polygon points="0,170 20,190 25,270 50,300 80,340 150,350 145,400 90,410 70,440 0,420" fill="#34539b" stroke="#34539b" stroke-width="2" stroke-linejoin="round"/>
<polygon points="0,540 40,560 90,600 100,630 60,650 40,670 100,680 170,700 190,740 150,780 180,800 240,810 260,835 0,835" fill="#34539b" stroke="#34539b" stroke-width="2" stroke-linejoin="round"/>
<polygon points="40,650 100,620 130,650 110,675 60,670" fill="#d389a5" stroke="#d389a5" stroke-width="2" stroke-linejoin="round"/>
<polygon points="135,450 180,420 215,430 230,460 215,500 165,510 140,490" fill="#d389a5" stroke="#d389a5" stroke-width="2" stroke-linejoin="round"/>
<polygon points="255,445 290,440 305,480 275,495 260,470" fill="#34539b" stroke="#34539b" stroke-width="2" stroke-linejoin="round"/>
<polygon points="200,600 250,560 300,555 340,590 330,620 360,660 340,700 320,720 330,745 290,730 250,690 200,700 190,650" fill="#d389a5" stroke="#d389a5" stroke-width="2" stroke-linejoin="round"/>
<polygon points="335,590 400,570 470,570 480,600 465,640 490,680 480,720 500,760 540,800 550,835 265,835 265,760 290,730 330,745 320,720 340,700 360,660 330,620" fill="#34539b" stroke="#34539b" stroke-width="2" stroke-linejoin="round"/>
<polygon points="95,790 140,770 200,775 230,800 225,835 100,835" fill="#1f3d85" stroke="#1f3d85" stroke-width="2" stroke-linejoin="round"/>
<polyline points="545,280 550,190 580,160 640,140 700,120 760,100 820,110 850,100 880,170 930,200 980,230 1060,240 1120,230 1150,190 1170,150 1250,150 1300,130 1355,115" fill="none" stroke="#253566" stroke-width="4.5" stroke-opacity=".75" stroke-linejoin="round"/>
<polyline points="40,0 45,60 70,130 140,140 160,200 170,240 290,250 320,300 300,340 330,380 400,400 450,410 500,450 540,470 580,465 585,405 560,380 560,330 545,280" fill="none" stroke="#253566" stroke-width="4.5" stroke-opacity=".75" stroke-linejoin="round"/>
<polyline points="580,465 590,545 580,560 590,600 560,640 540,670 500,660 490,680" fill="none" stroke="#253566" stroke-width="4.5" stroke-opacity=".75" stroke-linejoin="round"/>
<polyline points="855,0 860,60 850,100" fill="none" stroke="#253566" stroke-width="4.5" stroke-opacity=".75" stroke-linejoin="round"/>
</g></g>
<g clip-path="url(#c880_511)"><g transform="translate(880,511) scale(0.2)">
<polygon points="0,0 545,0 580,40 600,90 650,110 680,140 690,170 660,230 690,280 710,330 730,380 760,420 800,450 840,450 870,490 910,530 960,560 990,590 1000,620 1050,640 1075,670 1110,680 1135,720 1130,770 1140,810 1130,835 0,835" fill="#34539b" stroke="#34539b" stroke-width="2" stroke-linejoin="round"/>
<polygon points="595,0 620,0 615,30 600,20" fill="#ffb000" stroke="#ffb000" stroke-width="2" stroke-linejoin="round"/>
<polygon points="460,150 520,130 590,95 650,110 680,140 690,170 660,230 690,280 705,330 680,350 620,360 580,330 520,340 500,300 420,290 400,240 460,215" fill="#1f3d85" stroke="#1f3d85" stroke-width="2" stroke-linejoin="round"/>
<polygon points="635,520 690,470 700,410 730,385 760,420 800,450 840,450 870,490 910,530 870,545 800,560 780,575 740,570 690,605 660,580" fill="#1f3d85" stroke="#1f3d85" stroke-width="2" stroke-linejoin="round"/>
<polygon points="790,570 870,545 910,530 960,560 990,590 1000,620 1050,640 1075,670 1110,680 1135,720 1130,770 1140,810 1130,835 860,835 900,790 950,750 960,700 940,660 900,640 820,620" fill="#1f3d85" stroke="#1f3d85" stroke-width="2" stroke-linejoin="round"/>
<polygon points="80,570 110,545 160,565 200,570 250,600 240,630 210,660 180,700 140,690 100,670 85,620" fill="#1f3d85" stroke="#1f3d85" stroke-width="2" stroke-linejoin="round"/>
<polygon points="150,60 200,40 290,50 280,100 250,120 180,100" fill="#1f3d85" stroke="#1f3d85" stroke-width="2" stroke-linejoin="round"/>
<polygon points="130,180 160,170 165,200 140,210" fill="#1f3d85" stroke="#1f3d85" stroke-width="2" stroke-linejoin="round"/>
<polygon points="355,150 390,145 395,175 365,180" fill="#1f3d85" stroke="#1f3d85" stroke-width="2" stroke-linejoin="round"/>
<polygon points="695,680 740,670 745,695 705,705" fill="#1f3d85" stroke="#1f3d85" stroke-width="2" stroke-linejoin="round"/>
<polygon points="85,400 110,385 160,350 165,280 160,250 200,240 265,200 275,240 310,260 305,310 380,310 370,360 385,400 340,440 320,470 280,465 220,460 200,490 185,450 130,455 100,430" fill="#ffb000" stroke="#ffb000" stroke-width="2" stroke-linejoin="round"/>
<polygon points="55,285 90,250 130,250 160,265 165,300 150,340 180,380 230,385 240,410 200,415 160,390 120,330 80,300" fill="#d389a5" stroke="#d389a5" stroke-width="2" stroke-linejoin="round"/>
<polygon points="0,160 20,170 15,200 0,205" fill="#ffb000" stroke="#ffb000" stroke-width="2" stroke-linejoin="round"/>
<polygon points="180,710 210,660 240,630 260,615 320,620 350,600 370,640 430,680 440,720 430,760 440,835 350,835 330,790 290,760 230,740" fill="#ffb000" stroke="#ffb000" stroke-width="2" stroke-linejoin="round"/>
<polygon points="280,750 330,730 360,760 340,790 310,790" fill="#d389a5" stroke="#d389a5" stroke-width="2" stroke-linejoin="round"/>
<polygon points="535,620 560,600 585,620 575,645 545,640" fill="#ffb000" stroke="#ffb000" stroke-width="2" stroke-linejoin="round"/>
<polygon points="640,770 680,750 740,760 775,730 800,770 830,800 800,835 660,835 650,800" fill="#ffb000" stroke="#ffb000" stroke-width="2" stroke-linejoin="round"/>
<polygon points="0,680 10,690 10,750 0,760" fill="#ffb000" stroke="#ffb000" stroke-width="2" stroke-linejoin="round"/>
</g></g>
<g clip-path="url(#c880_670)"><g transform="translate(880,670) scale(0.2)">
<polygon points="0,0 1600,0 1600,835 0,835" fill="#ffffff" stroke="#ffffff" stroke-width="2" stroke-linejoin="round"/>
<polygon points="0,0 1145,0 1130,40 1110,60 1080,45 1040,30 1020,60 1015,110 990,150 960,180 910,195 860,220 820,250 795,285 830,320 850,360 880,400 860,450 880,480 910,490 920,530 900,600 860,590 820,550 830,520 800,495 760,510 730,525 700,510 670,495 640,480 625,500 600,510 610,540 555,540 500,550 410,560 400,585 340,605 320,640 280,650 200,660 170,620 120,590 60,580 20,590 15,640 0,650" fill="#34539b" stroke="#34539b" stroke-width="2" stroke-linejoin="round"/>
<polygon points="900,0 1145,0 1130,40 1110,60 1080,45 1040,30 1020,60 1015,110 990,150 960,180 930,170 905,140 930,100 910,60" fill="#1f3d85" stroke="#1f3d85" stroke-width="2" stroke-linejoin="round"/>
<polygon points="830,365 850,360 880,400 860,450 880,480 910,490 920,530 900,600 860,590 820,550 830,520 800,495 790,470 830,455 800,420 795,400" fill="#1f3d85" stroke="#1f3d85" stroke-width="2" stroke-linejoin="round"/>
<polygon points="300,100 330,40 345,0 425,0 430,40 500,40 520,50 535,100 600,150 640,130 700,110 740,160 730,210 720,260 660,290 650,330 670,370 690,410 680,450 660,490 640,480 625,500 600,510 610,540 555,540 500,550 410,560 400,585 340,605 320,640 280,650 200,660 170,620 160,570 180,540 110,500 120,440 110,400 130,350 120,310 150,270 200,270 250,200 255,150" fill="#ffb000" stroke="#ffb000" stroke-width="2" stroke-linejoin="round"/>
<polygon points="30,130 60,110 115,95 120,40 150,30 160,60 185,75 150,100 160,140 150,190 140,250 120,290 90,295 60,260 40,200" fill="#ffb000" stroke="#ffb000" stroke-width="2" stroke-linejoin="round"/>
<polygon points="650,0 830,0 800,40 760,70 720,80 700,50 660,40" fill="#ffb000" stroke="#ffb000" stroke-width="2" stroke-linejoin="round"/>
<polygon points="545,75 590,50 620,45 600,70 570,85" fill="#ffb000" stroke="#ffb000" stroke-width="2" stroke-linejoin="round"/>
<polygon points="255,150 300,130 340,115 370,140 380,180 250,200" fill="#d389a5" stroke="#d389a5" stroke-width="2" stroke-linejoin="round"/>
<polygon points="460,140 520,120 560,130 600,150 610,200 590,240 540,260 470,240 450,200 455,170" fill="#d389a5" stroke="#d389a5" stroke-width="2" stroke-linejoin="round"/>
<polygon points="200,270 250,200 380,180 450,200 455,260 470,330 480,370 430,390 380,370 340,340 330,290 250,300" fill="#cb4a7b" stroke="#cb4a7b" stroke-width="2" stroke-linejoin="round"/>
<polygon points="330,230 380,210 440,215 450,260 430,290 400,300 350,290" fill="#9d3b62" stroke="#9d3b62" stroke-width="2" stroke-linejoin="round"/>
<polygon points="245,300 290,285 335,295 345,340 320,360 320,430 300,440 280,400 255,350" fill="#9d3b62" stroke="#9d3b62" stroke-width="2" stroke-linejoin="round"/>
<polygon points="470,240 540,260 570,290 570,340 520,380 480,370 470,330 455,260" fill="#d389a5" stroke="#d389a5" stroke-width="2" stroke-linejoin="round"/>
<polygon points="415,390 430,390 480,380 520,440 550,500 555,540 500,550 410,555 430,500 420,440" fill="#d389a5" stroke="#d389a5" stroke-width="2" stroke-linejoin="round"/>
<polygon points="0,455 12,470 18,540 5,575 15,590 15,640 0,650" fill="#ffb000" stroke="#ffb000" stroke-width="2" stroke-linejoin="round"/>
</g></g>
<g clip-path="url(#s690_500)"><g transform="translate(690,500) scale(0.10038)">
<polygon points="0,0 1594,0 1594,837 0,837" fill="#34539b" stroke="#34539b" stroke-width="4.0" stroke-linejoin="round"/>
<polygon points="0,400 100,360 160,390 230,440 270,520 250,560 180,590 120,620 100,680 110,760 60,837 0,837" fill="#1f3d85" stroke="#1f3d85" stroke-width="4.0" stroke-linejoin="round"/>
<polygon points="454,728 469,683 519,678 534,723 524,763 469,770" fill="#1f3d85" stroke="#1f3d85" stroke-width="4.0" stroke-linejoin="round"/>
<polygon points="85,310 150,270 200,240 240,180 330,100 420,75 540,70 570,100 550,150 520,220 400,240 380,280 410,320 440,340 400,380 450,410 490,420 520,400 545,540 540,600 480,610 440,560 420,500 380,470 330,480 280,520 250,480 230,440 170,400 150,340" fill="#ffb000" stroke="#ffb000" stroke-width="4.0" stroke-linejoin="round"/>
<polygon points="385,270 420,235 500,220 530,240 550,300 520,340 440,340 410,320" fill="#d389a5" stroke="#d389a5" stroke-width="4.0" stroke-linejoin="round"/>
<polygon points="400,380 430,340 470,345 510,400 490,425 460,430 455,460 440,440" fill="#d389a5" stroke="#d389a5" stroke-width="4.0" stroke-linejoin="round"/>
<polygon points="720,0 1430,0 1440,50 1400,100 1330,130 1290,200 1280,260 1220,280 1200,240 1130,230 1050,250 1040,280 960,260 940,290 930,290 860,240 800,230 780,200 760,150 750,130 720,60" fill="#ffb000" stroke="#ffb000" stroke-width="4.0" stroke-linejoin="round"/>
<polygon points="520,0 700,0 720,60 750,130 760,150 690,200 620,260 640,300 600,340 520,355 530,330 550,300 530,240 520,220 550,150 570,100 540,70 560,30" fill="#cb4a7b" stroke="#cb4a7b" stroke-width="4.0" stroke-linejoin="round"/>
<polygon points="620,260 690,200 760,150 780,200 800,230 860,240 930,290 950,330 970,370 900,390 830,410 760,410 710,390 690,340 640,340 660,300" fill="#d389a5" stroke="#d389a5" stroke-width="4.0" stroke-linejoin="round"/>
<polygon points="780,270 800,240 840,250 850,290 800,310" fill="#34539b" stroke="#34539b" stroke-width="4.0" stroke-linejoin="round"/>
<polygon points="660,440 710,390 760,410 830,410 900,390 970,370 990,500 960,540 900,580 850,600 820,640 760,620 700,640 650,600 640,500" fill="#ffb000" stroke="#ffb000" stroke-width="4.0" stroke-linejoin="round"/>
<polygon points="690,500 720,430 770,420 780,470 740,520 720,570 700,540" fill="#d389a5" stroke="#d389a5" stroke-width="4.0" stroke-linejoin="round"/>
<polygon points="940,290 960,260 1040,280 1050,250 1130,230 1200,240 1220,330 1240,420 1250,520 1260,590 1180,610 1150,640 1220,660 1210,720 1130,740 1060,790 1010,800 990,760 1030,700 1040,600 1010,540 990,500 970,370 950,330" fill="#ffb000" stroke="#ffb000" stroke-width="4.0" stroke-linejoin="round"/>
<polygon points="1010,360 1040,370 1090,430 1050,450 1020,420" fill="#d389a5" stroke="#d389a5" stroke-width="4.0" stroke-linejoin="round"/>
<polygon points="530,680 560,650 640,640 700,640 760,620 820,640 860,720 870,837 640,837 569,783 534,723" fill="#ffb000" stroke="#ffb000" stroke-width="4.0" stroke-linejoin="round"/>
<polygon points="340,837 370,760 400,740 450,770 480,837" fill="#ffb000" stroke="#ffb000" stroke-width="4.0" stroke-linejoin="round"/>
<polygon points="474,770 524,765 559,773 564,793 534,798 499,818 489,837 470,837" fill="#d389a5" stroke="#d389a5" stroke-width="4.0" stroke-linejoin="round"/>
<polygon points="499,818 534,798 564,793 580,837 489,837" fill="#1f3d85" stroke="#1f3d85" stroke-width="4.0" stroke-linejoin="round"/>
<polygon points="0,0 50,0 40,30 0,50" fill="#ffb000" stroke="#ffb000" stroke-width="4.0" stroke-linejoin="round"/>
<polygon points="1520,570 1560,540 1594,530 1594,640 1550,640" fill="#ffb000" stroke="#ffb000" stroke-width="4.0" stroke-linejoin="round"/>
<polyline points="355,0 380,50 330,100 240,180 200,240 150,280 210,380 300,360 400,325 450,330 500,380 530,470 545,570 530,660 534,723 569,783 640,837" fill="none" stroke="#253566" stroke-width="9.0" stroke-opacity=".75" stroke-linejoin="round"/>
<polyline points="940,300 960,262 1040,275 1050,245 1130,230 1200,240 1215,280" fill="none" stroke="#253566" stroke-width="9.0" stroke-opacity=".75" stroke-linejoin="round"/>
<polyline points="965,370 990,500 1010,540 1040,600 1030,700 990,760" fill="none" stroke="#253566" stroke-width="9.0" stroke-opacity=".75" stroke-linejoin="round"/>
<polyline points="1180,610 1260,590 1330,600 1380,660 1440,650 1500,700 1530,837" fill="none" stroke="#253566" stroke-width="9.0" stroke-opacity=".75" stroke-linejoin="round"/>
</g></g>
<g clip-path="url(#s690_584)"><g transform="translate(690,584) scale(0.10038)">
<polygon points="0,0 1594,0 1594,837 0,837" fill="#34539b" stroke="#34539b" stroke-width="4.0" stroke-linejoin="round"/>
<polygon points="0,0 250,0 240,60 200,130 170,180 200,260 210,340 200,420 150,460 60,470 0,440" fill="#1f3d85" stroke="#1f3d85" stroke-width="4.0" stroke-linejoin="round"/>
<polygon points="50,40 120,20 190,60 180,120 110,150 60,110" fill="#34539b" stroke="#34539b" stroke-width="4.0" stroke-linejoin="round"/>
<polygon points="0,450 60,475 150,465 200,480 280,500 350,540 420,575 400,620 360,680 330,740 290,790 240,837 0,837" fill="#ffffff" stroke="#ffffff" stroke-width="4.0" stroke-linejoin="round"/>
<polygon points="170,180 230,130 270,80 250,40 290,0 470,0 455,60 450,100 490,160 500,210 440,220 380,200 290,195 220,205" fill="#ffb000" stroke="#ffb000" stroke-width="4.0" stroke-linejoin="round"/>
<polygon points="610,110 650,40 660,0 1000,0 1000,50 940,120 910,150 960,200 980,240 1020,250 1060,220 1160,165 1250,200 1280,240 1240,270 1220,330 1180,370 1230,400 1280,430 1290,470 1340,520 1400,570 1500,630 1560,590 1594,570 1594,837 1280,837 1240,790 1110,780 1090,740 1040,720 990,740 980,780 960,740 900,750 810,770 830,837 540,837 520,780 550,720 540,680 620,540 600,500 560,470 510,480 520,400 540,330 545,285 580,270 600,240 605,230 590,170 600,160" fill="#ffb000" stroke="#ffb000" stroke-width="4.0" stroke-linejoin="round"/>
<polygon points="470,0 500,0 490,50 540,100 590,90 610,110 600,160 560,180 540,200 600,240 580,270 545,285 520,240 500,210 490,160 450,100 455,60" fill="#d389a5" stroke="#d389a5" stroke-width="4.0" stroke-linejoin="round"/>
<polygon points="500,0 580,0 585,60 590,90 540,100 490,50" fill="#1f3d85" stroke="#1f3d85" stroke-width="4.0" stroke-linejoin="round"/>
<polygon points="540,200 560,180 590,170 605,230 600,245" fill="#34539b" stroke="#34539b" stroke-width="4.0" stroke-linejoin="round"/>
<polygon points="690,170 700,110 760,90 800,95 800,130 760,160" fill="#34539b" stroke="#34539b" stroke-width="4.0" stroke-linejoin="round"/>
<polygon points="985,350 1040,340 1100,370 1140,430 1080,450 1040,440 1030,400" fill="#34539b" stroke="#34539b" stroke-width="4.0" stroke-linejoin="round"/>
<polygon points="350,790 380,720 420,700 450,760 470,800 450,837 370,837" fill="#ffb000" stroke="#ffb000" stroke-width="4.0" stroke-linejoin="round"/>
<polygon points="810,770 900,750 960,740 980,780 985,837 830,837" fill="#d389a5" stroke="#d389a5" stroke-width="4.0" stroke-linejoin="round"/>
<polygon points="1090,837 1110,780 1240,790 1280,837" fill="#d389a5" stroke="#d389a5" stroke-width="4.0" stroke-linejoin="round"/>
<polygon points="980,780 990,740 1040,720 1090,740 1110,780 1090,837 985,837" fill="#34539b" stroke="#34539b" stroke-width="4.0" stroke-linejoin="round"/>
<polyline points="480,0 470,60 500,160 560,250 545,285 520,400 480,500 420,575" fill="none" stroke="#253566" stroke-width="9.0" stroke-opacity=".75" stroke-linejoin="round"/>
<polyline points="760,0 800,30 830,60 820,130 850,140 880,70 940,40 1000,20" fill="none" stroke="#253566" stroke-width="9.0" stroke-opacity=".75" stroke-linejoin="round"/>
</g></g>
<g id="callouts" fill="none" stroke-linecap="round">
<line x1="600" y1="314.2" x2="866" y2="306" stroke="#fff" stroke-width="5.5"/>
<line x1="272" y1="323.5" x2="866" y2="306" stroke="#2d6df6" stroke-width="2"/>
<line x1="594" y1="577" x2="691.5" y2="617" stroke="#fff" stroke-width="5.5"/>
<line x1="401" y1="497.5" x2="691.5" y2="617" stroke="#2d6df6" stroke-width="2"/>
<line x1="939.5" y1="747.5" x2="1108" y2="636.3" stroke="#fff" stroke-width="5.5"/>
<line x1="939.5" y1="747.5" x2="1301.5" y2="509.5" stroke="#2d6df6" stroke-width="2"/>
<circle cx="866" cy="306" r="8.6" fill="#fff" stroke="none"/><circle cx="866" cy="306" r="3.8" fill="#2d6df6" stroke="none"/>
<circle cx="691.5" cy="617" r="8.6" fill="#fff" stroke="none"/><circle cx="691.5" cy="617" r="3.8" fill="#2d6df6" stroke="none"/>
<circle cx="939.5" cy="747.5" r="8.6" fill="#fff" stroke="none"/><circle cx="939.5" cy="747.5" r="3.8" fill="#2d6df6" stroke="none"/>
</g>
<g id="cities" font-family="'Liberation Sans',Arial,sans-serif" font-size="20.7" fill="#fff" stroke="#4d5058" stroke-width="1.9" stroke-linejoin="round" paint-order="stroke fill" style="paint-order:stroke fill">
<g fill="#fff" stroke="#6a6d75" stroke-width="0.6">
<circle cx="850" cy="176" r="1.9"/><circle cx="777.6" cy="223.4" r="1.9"/><circle cx="1063" cy="277" r="1.9"/><circle cx="836" cy="295" r="1.9"/>
<circle cx="662" cy="385" r="1.9"/><circle cx="691" cy="381" r="1.9"/><circle cx="647" cy="409" r="1.9"/><circle cx="656" cy="438" r="1.9"/>
<circle cx="1003" cy="399" r="1.9"/><circle cx="1091" cy="426" r="1.9"/><circle cx="765" cy="525" r="1.9"/><circle cx="924" cy="593" r="1.9"/>
<circle cx="796" cy="661" r="1.9"/><circle cx="959" cy="725" r="1.9"/>
</g>
<text x="854" y="170">Hamburg</text>
<text x="781" y="219.7">Bremen</text>
<text x="1066" y="274">Berlin</text>
<text x="840" y="290">Hannover</text>
<text x="616.3" y="379" letter-spacing="-0.2">Essen</text>
<text x="697" y="388">Dortmund</text>
<text x="650" y="416">Duesseldorf</text>
<text x="618" y="458">Koeln</text>
<text x="1005" y="393">Leipzig</text>
<text x="1010" y="444">Dresden</text>
<text x="768" y="521">Frankfurt am Main</text>
<text x="846" y="584">Nuernberg</text>
<text x="732.3" y="653" letter-spacing="0.36">Stuttgart</text>
<text x="859" y="721" letter-spacing="0.15">Muenchen</text>
</g>

</svg>
<div id="title" class="abs">NIQ Purchasing Power<br>for Coffee</div>
<div id="subtitle" class="abs">Germany 2025</div>

<div class="abs clabel" style="left:94px;top:275px;letter-spacing:-1.6px;">159 | Peine district</div>
<div class="abs cval" style="left:160.6px;top:315.8px;">50 €</div>
<div class="abs clabel" style="left:190px;top:449px;">400 | Pirmasens district</div>
<div class="abs cval" style="left:289.3px;top:489.8px;">39 €</div>
<div class="abs clabel" style="left:1241px;top:465px;">1 | Starnberg district</div>
<div class="abs cval" style="left:1318px;top:505.8px;">61 €</div>

<div id="legend" class="abs"></div>
<svg class="abs" style="left:0;top:0" width="1600" height="837" viewBox="0 0 1600 837">
<g>
<rect x="99.8" y="684.8" width="56.6" height="33.8" fill="#253566"/>
<rect x="157.8" y="684.8" width="56.1" height="33.8" fill="#1f3d85"/>
<rect x="215.3" y="684.8" width="56.1" height="33.8" fill="#34539b"/>
<rect x="272.8" y="684.8" width="56.1" height="33.8" fill="#ffb000"/>
<rect x="330.3" y="684.8" width="56.1" height="33.8" fill="#d389a5"/>
<rect x="388.0" y="684.8" width="56.1" height="33.8" fill="#cb4a7b"/>
<rect x="445.5" y="684.8" width="55.3" height="33.8" fill="#9d3b62"/>
<g stroke="#3a3f45" stroke-width="1.2" fill="#3a3f45">
<line x1="104" y1="670.5" x2="156.5" y2="670.5"/><polygon points="100,670.5 108,667.3 108,673.7" stroke="none"/>
<line x1="444.5" y1="670.5" x2="497" y2="670.5"/><polygon points="501,670.5 493,667.3 493,673.7" stroke="none"/>
</g>
<g font-family="'Liberation Sans',Arial,sans-serif" fill="#3a3f45">
<text x="300.3" y="673.7" font-size="18.5" font-weight="bold" text-anchor="middle">Purchasing power for districts</text>
<text x="100.2" y="741.6" font-size="18">low</text>
<text x="300" y="741.6" font-size="18" text-anchor="middle">average</text>
<text x="498.4" y="741.6" font-size="18" text-anchor="end">high</text>
</g>
</g>
<g id="logo" font-family="'Liberation Sans',Arial,sans-serif">
<text x="1151.6" y="69.2" font-size="49" font-weight="bold" fill="#2d6df6" stroke="#2d6df6" stroke-width="1.6" stroke-linejoin="round" textLength="99" lengthAdjust="spacingAndGlyphs">NIQ</text>
<text x="1263.2" y="69.5" font-size="48" fill="#0a0a45" textLength="307.5" lengthAdjust="spacingAndGlyphs">Geomarketing</text>
<text x="1241.5" y="110.2" font-size="18.5" fill="#222">powered by</text>
<rect x="1343.4" y="84.7" width="36.6" height="36" fill="#e55a10"/>
<line x1="1370.5" y1="99" x2="1379.4" y2="85.2" stroke="#fff" stroke-width="1.3"/>
<text x="1346" y="110.2" font-size="20.5" fill="#fff" textLength="29.5" lengthAdjust="spacingAndGlyphs">GfK</text>
<text x="1385.5" y="110.2" font-size="19.2" fill="#222">intelligence</text>
</g>
</svg>
<div id="footl" class="abs">Map created with RegioGraph | www.nielseniq.com/geomarketing</div>
<div id="footr" class="abs">© NIQ Geomarketing 2025</div>
</body>
</html>
